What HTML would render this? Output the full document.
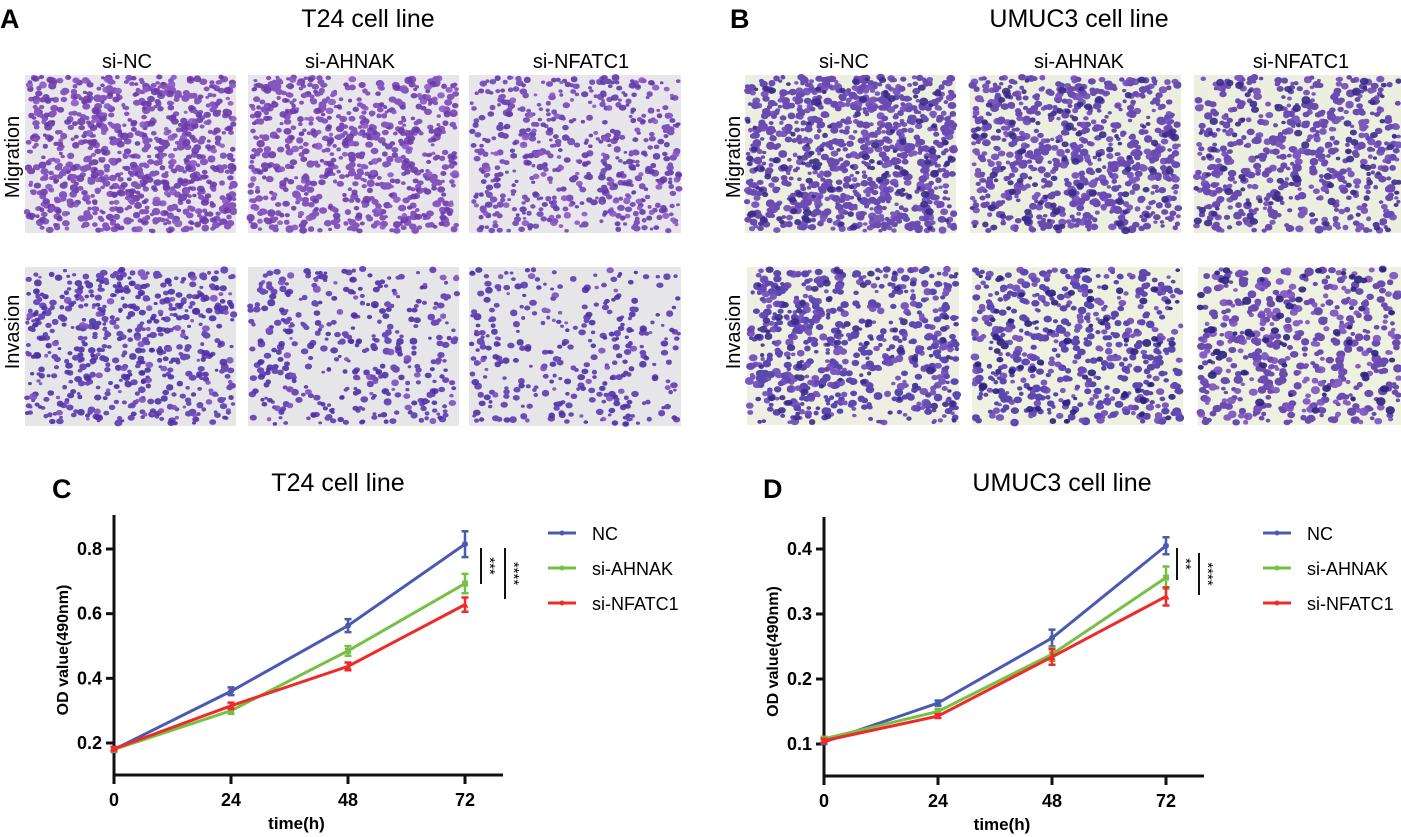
<!DOCTYPE html>
<html><head><meta charset="utf-8"><style>
body{margin:0;background:#fff;}
svg{display:block;font-family:"Liberation Sans",sans-serif;}
</style></head><body>
<svg id="fig" width="1401" height="837" viewBox="0 0 1401 837" xmlns="http://www.w3.org/2000/svg">
<g id="imgs"></g>
<g font-weight="bold" font-size="27">
<text x="0" y="28">A</text>
<text x="730" y="28">B</text>
<text x="52" y="498">C</text>
<text x="763" y="498">D</text>
</g>
<g font-size="25" text-anchor="middle">
<text x="368" y="27">T24 cell line</text>
<text x="1079" y="27">UMUC3 cell line</text>
<text x="338" y="491">T24 cell line</text>
<text x="1062" y="491">UMUC3 cell line</text>
</g>
<g font-size="20" text-anchor="middle">
<text x="127" y="68">si-NC</text>
<text x="350" y="68">si-AHNAK</text>
<text x="581" y="68">si-NFATC1</text>
<text x="844" y="68">si-NC</text>
<text x="1079" y="68">si-AHNAK</text>
<text x="1301" y="68">si-NFATC1</text>
</g>
<g font-size="20" text-anchor="middle">
<text transform="translate(19,157) rotate(-90)">Migration</text>
<text transform="translate(19,332) rotate(-90)">Invasion</text>
<text transform="translate(740,157) rotate(-90)">Migration</text>
<text transform="translate(740,332) rotate(-90)">Invasion</text>
</g>
<g id="chartC"></g>
<g id="chartD"></g>
</svg>
<script>
// ---- Chart data ----
const timesH = [0, 24, 48, 72];
const seriesNames = ["NC", "si-AHNAK", "si-NFATC1"];
const cNC = [0.180, 0.360, 0.563, 0.815];
const cAHNAK = [0.180, 0.300, 0.485, 0.693];
const cNFATC1 = [0.182, 0.315, 0.437, 0.628];
const cErrNC = [0.008, 0.012, 0.020, 0.040];
const cErrAHNAK = [0.006, 0.010, 0.015, 0.030];
const cErrNFATC1 = [0.005, 0.010, 0.012, 0.022];
const dNC = [0.103, 0.163, 0.263, 0.405];
const dAHNAK = [0.108, 0.150, 0.238, 0.356];
const dNFATC1 = [0.105, 0.143, 0.234, 0.327];
const dErrNC = [0.003, 0.004, 0.013, 0.013];
const dErrAHNAK = [0.003, 0.004, 0.010, 0.017];
const dErrNFATC1 = [0.003, 0.003, 0.012, 0.014];
const cYTicks = [0.2, 0.4, 0.6, 0.8];
const dYTicks = [0.1, 0.2, 0.3, 0.4];
const xTickLabels = ["0", "24", "48", "72"];
const cSig = ["***", "****"];
const dSig = ["**", "****"];

const NS = "http://www.w3.org/2000/svg";
function mk(parent, tag, attrs){const e=document.createElementNS(NS,tag);for(const k in attrs)e.setAttribute(k,attrs[k]);parent.appendChild(e);return e;}
const colors = ["#4a5ab0", "#76c043", "#ee2a2a"];

function drawChart(g, cfg){
  const X = t => cfg.x0 + (t - 0) * (cfg.x72 - cfg.x0) / 72;
  const Y = v => cfg.yA + (v - cfg.vA) * (cfg.yB - cfg.yA) / (cfg.vB - cfg.vA);
  let a = mk(g,'line',{x1:cfg.x0,y1:cfg.top,x2:cfg.x0,y2:cfg.base+1.5,stroke:'#111','stroke-width':3});
   
  a = mk(g,'line',{x1:cfg.x0-1.5,y1:cfg.base,x2:cfg.xEnd,y2:cfg.base,stroke:'#111','stroke-width':3});
   
  cfg.yTicks.forEach(v=>{
    const t=mk(g,'line',{x1:cfg.x0-8,x2:cfg.x0,y1:Y(v),y2:Y(v),stroke:'#111','stroke-width':3});
     
    const l=mk(g,'text',{x:cfg.x0-12,y:Y(v)+6,'text-anchor':'end','font-size':18,'font-weight':'bold'});
    l.textContent=v.toFixed(1);
     
  });
  timesH.forEach((t,i)=>{
    const k=mk(g,'line',{x1:X(t),x2:X(t),y1:cfg.base,y2:cfg.base+9,stroke:'#111','stroke-width':3});
     
    const l=mk(g,'text',{x:X(t),y:cfg.base+31,'text-anchor':'middle','font-size':18,'font-weight':'bold'});
    l.textContent=xTickLabels[i];
     
  });
  let yl=mk(g,'text',{transform:`translate(${cfg.x0-46},${(cfg.top+cfg.base)/2+5}) rotate(-90)`,'text-anchor':'middle','font-size':16,'font-weight':'bold'});
  yl.textContent='OD value(490nm)';
   
  let xl=mk(g,'text',{x:(cfg.x0+cfg.x72)/2+7,y:cfg.base+54,'text-anchor':'middle','font-size':17,'font-weight':'bold'});
  xl.textContent='time(h)';
   
  cfg.series.forEach((vals,si)=>{
    const col=colors[si], err=cfg.errs[si];
    const sg=mk(g,'g',{});
    
    
    const p=mk(sg,'polyline',{points:vals.map((v,i)=>X(timesH[i])+','+Y(v)).join(' '),fill:'none',stroke:col,'stroke-width':3});
     
    vals.forEach((v,i)=>{
      const x=X(timesH[i]),y1=Y(v+err[i]),y2=Y(v-err[i]);
      const e=mk(sg,'path',{d:`M${x},${y1}V${y2}M${x-3.5},${y1}H${x+3.5}M${x-3.5},${y2}H${x+3.5}`,stroke:col,'stroke-width':2.5,fill:'none'});
       
      let m;
      const y=Y(v);
      if(si===0) m=mk(sg,'circle',{cx:x,cy:y,r:3,fill:col});
      else if(si===1) m=mk(sg,'rect',{x:x-3,y:y-3,width:6,height:6,fill:col});
      else m=mk(sg,'path',{d:`M${x},${y-3.5}L${x+3.5},${y+3}L${x-3.5},${y+3}Z`,fill:col});
       
    });
  });
  cfg.sig.forEach((s,i)=>{
    const b=cfg.brackets[i];
    const ln=mk(g,'line',{x1:b.x,x2:b.x,y1:b.y1,y2:b.y2,stroke:'#111','stroke-width':2});
     
    const st=mk(g,'text',{transform:`translate(${b.x+4},${(b.y1+b.y2)/2}) rotate(90)`,'text-anchor':'middle','font-size':15});
    st.textContent=s;
     
  });
  seriesNames.forEach((n,i)=>{
    const y=cfg.legY+i*35;
    const lg=mk(g,'g',{});
     
    mk(lg,'line',{x1:cfg.legX,x2:cfg.legX+28,y1:y,y2:y,stroke:colors[i],'stroke-width':3});
    mk(lg,'circle',{cx:cfg.legX+14,cy:y,r:2.5,fill:colors[i]});
    const t=mk(lg,'text',{x:cfg.legX+44,y:y+7,'font-size':18});
    t.textContent=n;
  });
}
drawChart(document.getElementById('chartC'),{x0:114,x72:465,xEnd:503,top:515,base:775,yA:743,vA:0.2,yB:549,vB:0.8,
  yTicks:cYTicks,series:[cNC,cAHNAK,cNFATC1],errs:[cErrNC,cErrAHNAK,cErrNFATC1],sig:cSig,
  brackets:[{x:481,y1:548,y2:584},{x:505,y1:548,y2:599}],legX:548,legY:533});
drawChart(document.getElementById('chartD'),{x0:824,x72:1166,xEnd:1204,top:517,base:776,yA:744,vA:0.1,yB:549,vB:0.4,
  yTicks:dYTicks,series:[dNC,dAHNAK,dNFATC1],errs:[dErrNC,dErrAHNAK,dErrNFATC1],sig:dSig,
  brackets:[{x:1177,y1:548,y2:580},{x:1199,y1:553,y2:595}],legX:1263,legY:533});

// ---- micrograph textures (decorative) ----
let seed=12345;function rnd(){seed=(seed*16807)%2147483647;return seed/2147483647;}
const panels=[
 {x:25,y:75,w:211,h:158,bg:'#e8e6ea',n:900,c:['#7a47b8','#6a3aa8','#8a58c4'],s:3.2,name:'t24-migration-si-nc'},
 {x:248,y:75,w:211,h:158,bg:'#e8e6ea',n:750,c:['#7a47b8','#6a3aa8','#8a58c4'],s:3.2,name:'t24-migration-si-ahnak'},
 {x:469,y:75,w:212,h:158,bg:'#e8e6ea',n:560,c:['#6f45b4','#5e3aa8','#8a58c4'],s:3.0,name:'t24-migration-si-nfatc1'},
 {x:25,y:267,w:211,h:159,bg:'#e6e5e8',n:600,c:['#5b3bb0','#4c30a4','#7a50c0'],s:3.0,name:'t24-invasion-si-nc'},
 {x:248,y:267,w:211,h:159,bg:'#e6e5e8',n:400,c:['#5b3bb0','#4c30a4','#7a50c0'],s:3.0,name:'t24-invasion-si-ahnak'},
 {x:469,y:267,w:212,h:159,bg:'#e6e5e8',n:330,c:['#5b3bb0','#4c30a4','#7a50c0'],s:3.0,name:'t24-invasion-si-nfatc1'},
 {x:745,y:75,w:211,h:158,bg:'#eceee0',n:1000,c:['#5a3aa8','#6e4ab8','#3a2a88'],s:3.4,name:'umuc3-migration-si-nc'},
 {x:970,y:75,w:211,h:158,bg:'#eceee0',n:820,c:['#5a3aa8','#6e4ab8','#3a2a88'],s:3.4,name:'umuc3-migration-si-ahnak'},
 {x:1194,y:75,w:207,h:158,bg:'#eceee0',n:640,c:['#5a3aa8','#6e4ab8','#3a2a88'],s:3.4,name:'umuc3-migration-si-nfatc1'},
 {x:747,y:267,w:212,h:158,bg:'#eeeee2',n:700,c:['#4a35a8','#6a48b8','#3a2a88'],s:3.4,name:'umuc3-invasion-si-nc'},
 {x:972,y:267,w:211,h:158,bg:'#eef0e0',n:620,c:['#4a35a8','#6a48b8','#2a2080'],s:3.4,name:'umuc3-invasion-si-ahnak'},
 {x:1198,y:267,w:203,h:158,bg:'#eef0e0',n:540,c:['#5a3aa8','#7a50c0','#2a2080'],s:3.6,name:'umuc3-invasion-si-nfatc1'}
];
const ig=document.getElementById('imgs');
panels.forEach(p=>{
  const g=mk(ig,'g',{});
  
  
  mk(g,'rect',{x:p.x,y:p.y,width:p.w,height:p.h,fill:p.bg});
  let d=['','',''];
  for(let i=0;i<p.n;i++){
    const cx=p.x+2+rnd()*(p.w-4),cy=p.y+2+rnd()*(p.h-4);
    const r=p.s*(0.6+rnd()*0.7);
    const k=rnd()<0.55?0:(rnd()<0.75?1:2);
    d[k]+=`M${(cx-r).toFixed(1)},${cy.toFixed(1)}a${r.toFixed(1)},${(r*0.8).toFixed(1)} 0 1,0 ${(2*r).toFixed(1)},0a${r.toFixed(1)},${(r*0.8).toFixed(1)} 0 1,0 ${(-2*r).toFixed(1)},0`;
  }
  d.forEach((dd,k)=>mk(g,'path',{d:dd,fill:p.c[k],'fill-opacity':0.9}));
});
</script>
</body></html>
